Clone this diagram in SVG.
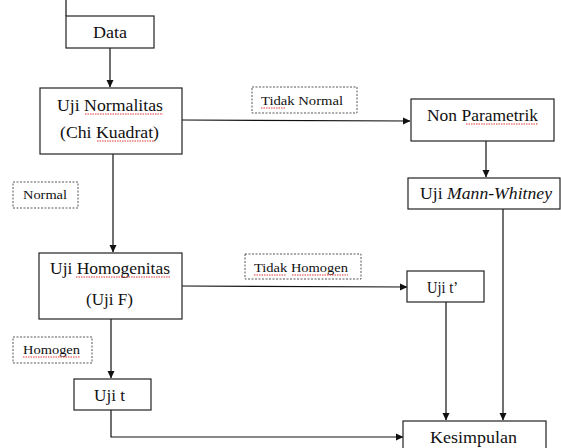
<svg xmlns="http://www.w3.org/2000/svg" width="561" height="448" viewBox="0 0 561 448">
<style>
.box{fill:#fff;stroke:#222;stroke-width:1.2}
.lbl{fill:#fff;stroke:#444;stroke-width:0.9;stroke-dasharray:2 1.5}
text{font-family:'Liberation Serif','DejaVu Serif',serif;fill:#111}
.t{font-size:17px}
.s{font-size:13.5px}
.c{fill:none;stroke:#111;stroke-width:1.2}
.sq{fill:none;stroke:#e02020;stroke-width:0.9;stroke-dasharray:1.5 1}
</style>
<defs>
<marker id="ah" markerWidth="8" markerHeight="8" refX="7" refY="4" orient="auto" markerUnits="userSpaceOnUse">
<path d="M0,0.5 L7.5,4 L0,7.5 Z" fill="#111"/>
</marker>
</defs>
<g id="connectors">
<line class="c" x1="66" y1="0" x2="66" y2="16"/>
<line class="c" x1="110" y1="48" x2="110" y2="87" marker-end="url(#ah)"/>
<line class="c" x1="182" y1="120" x2="410" y2="121" marker-end="url(#ah)"/>
<line class="c" x1="486" y1="141" x2="486" y2="177" marker-end="url(#ah)"/>
<line class="c" x1="113" y1="154" x2="113" y2="252" marker-end="url(#ah)"/>
<line class="c" x1="503" y1="209" x2="503" y2="420" marker-end="url(#ah)"/>
<line class="c" x1="182" y1="286" x2="407" y2="287" marker-end="url(#ah)"/>
<line class="c" x1="446" y1="302" x2="446" y2="420" marker-end="url(#ah)"/>
<line class="c" x1="111" y1="319" x2="111" y2="378" marker-end="url(#ah)"/>
<polyline class="c" points="111,410 111,437 403,437" marker-end="url(#ah)"/>
</g>
<g id="data">
<rect class="box" x="66" y="16" width="88" height="32"/>
<text class="t" font-family="Liberation Serif" x="110" y="38" text-anchor="middle" textLength="34" lengthAdjust="spacingAndGlyphs">Data</text>
</g>
<g id="uji-normalitas">
<rect class="box" x="40" y="88" width="142" height="66"/>
<text class="t" font-family="Liberation Serif" x="57" y="111" textLength="106" lengthAdjust="spacingAndGlyphs">Uji Normalitas</text>
<text class="t" font-family="Liberation Serif" x="60" y="138" textLength="99" lengthAdjust="spacingAndGlyphs">(Chi Kuadrat)</text>
<path class="sq" d="M85,114 H163 M97,141 H155"/>
</g>
<g id="label-tidak-normal">
<rect class="lbl" x="252" y="87" width="105" height="26"/>
<text class="s" font-family="Liberation Serif" x="261" y="105" textLength="82" lengthAdjust="spacingAndGlyphs">Tidak Normal</text>
<path class="sq" d="M261,108 H285"/>
</g>
<g id="non-parametrik">
<rect class="box" x="411" y="99" width="143" height="42"/>
<text class="t" font-family="Liberation Serif" x="427" y="121" textLength="111" lengthAdjust="spacingAndGlyphs">Non Parametrik</text>
<path class="sq" d="M466,124 H538"/>
</g>
<g id="uji-mann-whitney">
<rect class="box" x="408" y="178" width="152" height="31"/>
<text class="t" font-family="Liberation Serif" x="420" y="199" textLength="132" lengthAdjust="spacingAndGlyphs">Uji <tspan font-style="italic">Mann-Whitney</tspan></text>
</g>
<g id="label-normal">
<rect class="lbl" x="13" y="182" width="65" height="26"/>
<text class="s" font-family="Liberation Serif" x="23" y="199" textLength="44" lengthAdjust="spacingAndGlyphs">Normal</text>
</g>
<g id="uji-homogenitas">
<rect class="box" x="39" y="253" width="143" height="66"/>
<text class="t" font-family="Liberation Serif" x="50" y="274" textLength="120" lengthAdjust="spacingAndGlyphs">Uji Homogenitas</text>
<text class="t" font-family="Liberation Serif" x="86" y="305" textLength="47" lengthAdjust="spacingAndGlyphs">(Uji F)</text>
<path class="sq" d="M76,277 H170"/>
</g>
<g id="label-tidak-homogen">
<rect class="lbl" x="245" y="254" width="116" height="25"/>
<text class="s" font-family="Liberation Serif" x="254" y="272" textLength="94" lengthAdjust="spacingAndGlyphs">Tidak Homogen</text>
<path class="sq" d="M254,275 H286 M292,275 H348"/>
</g>
<g id="uji-t-aksen">
<rect class="box" x="407" y="271" width="77" height="31"/>
<text class="t" font-family="Liberation Serif" x="427" y="293" textLength="31" lengthAdjust="spacingAndGlyphs">Uji t’</text>
</g>
<g id="label-homogen">
<rect class="lbl" x="13" y="337" width="79" height="26"/>
<text class="s" font-family="Liberation Serif" x="23" y="354" textLength="57" lengthAdjust="spacingAndGlyphs">Homogen</text>
<path class="sq" d="M23,357 H80"/>
</g>
<g id="uji-t">
<rect class="box" x="74" y="379" width="77" height="31"/>
<text class="t" font-family="Liberation Serif" x="94" y="401" textLength="31" lengthAdjust="spacingAndGlyphs">Uji t</text>
</g>
<g id="kesimpulan">
<rect class="box" x="403" y="421" width="143" height="40"/>
<text class="t" font-family="Liberation Serif" x="430" y="443" textLength="87" lengthAdjust="spacingAndGlyphs">Kesimpulan</text>
</g>
</svg>
